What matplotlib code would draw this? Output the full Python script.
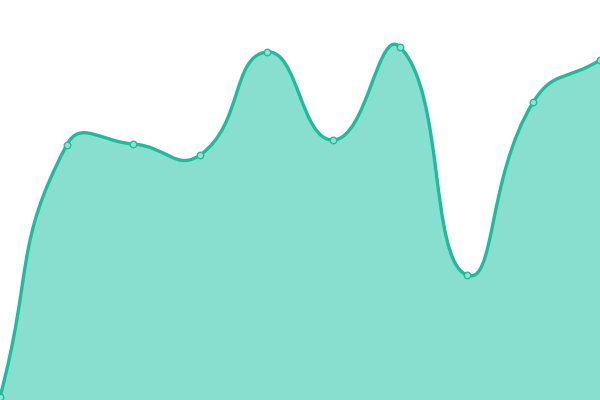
import numpy as np
import matplotlib
matplotlib.use("Agg")
import matplotlib.pyplot as plt
from matplotlib.path import Path
from matplotlib.patches import PathPatch

categories = list(range(10))
values = [3, 255, 256, 245, 348, 260, 353, 125, 298, 340]

LINE = "#1fbc9c"
FILL = "#89dfcf"

fig = plt.figure(figsize=(6, 4), dpi=100)
ax = fig.add_axes([0, 0, 1, 1])
ax.set_xlim(0, len(categories) - 1)
ax.set_ylim(0, 400)
ax.axis("off")

# smooth bezier like ECharts (smooth=0.5), computed in pixel space
sx = 600 / (len(categories) - 1)
pts = np.array([[c * sx, v] for c, v in zip(categories, values)], float)
smooth = 0.5
n = len(pts)
verts = [tuple(pts[0])]
codes = [Path.MOVETO]
cps = []
for i in range(n):
    prev = pts[i - 1] if i > 0 else pts[i]
    nxt = pts[i + 1] if i < n - 1 else pts[i]
    v = (nxt - prev) * smooth
    d0 = np.hypot(*(pts[i] - prev))
    d1 = np.hypot(*(pts[i] - nxt))
    s = d0 + d1
    if s == 0:
        cps.append((pts[i], pts[i]))
        continue
    cps.append((pts[i] - v * d0 / s, pts[i] + v * d1 / s))
for i in range(n - 1):
    c1 = cps[i][1]
    c2 = cps[i + 1][0]
    verts += [tuple(c1), tuple(c2), tuple(pts[i + 1])]
    codes += [Path.CURVE4] * 3

def to_data(vs):
    return [(x / sx, y) for x, y in vs]

line_verts = to_data(verts)
fill_verts = line_verts + [(categories[-1], 0), (categories[0], 0), line_verts[0]]
fill_codes = codes + [Path.LINETO, Path.LINETO, Path.CLOSEPOLY]

ax.add_patch(PathPatch(Path(fill_verts, fill_codes), facecolor=FILL, edgecolor="none", zorder=1))
ax.add_patch(PathPatch(Path(line_verts, codes), facecolor="none", edgecolor=LINE, lw=2.4, zorder=2, capstyle="round"))
ax.scatter(categories, values, s=22, facecolor="#8fe3d3", edgecolor=LINE, linewidths=1.0, zorder=3, clip_on=False)

fig.savefig("out.png", dpi=100)
